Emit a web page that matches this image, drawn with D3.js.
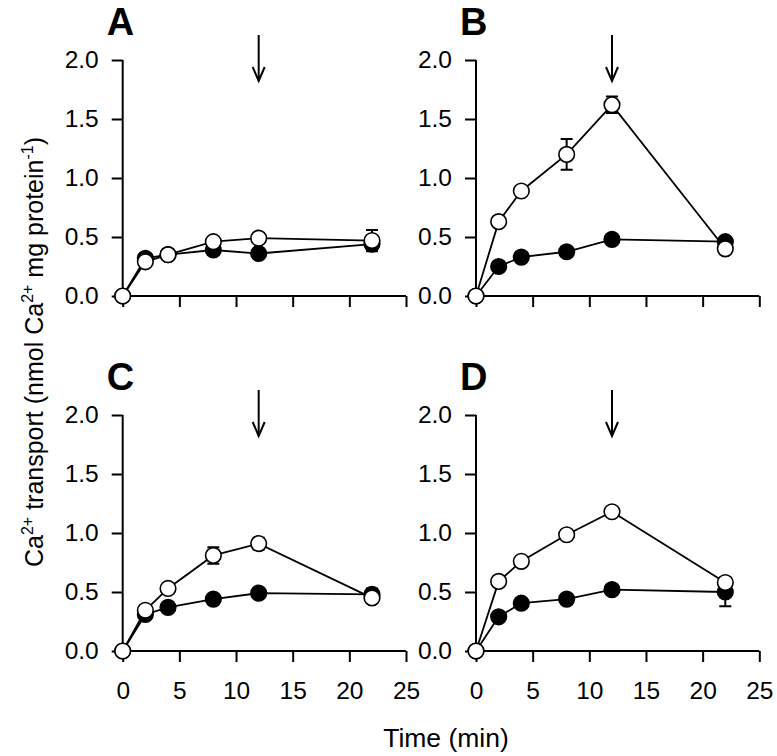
<!DOCTYPE html>
<html><head><meta charset="utf-8">
<script src="https://cdn.jsdelivr.net/npm/d3@7"></script>
<style>body{margin:0;background:#fff}svg{display:block}text{font-family:"Liberation Sans",Arial,sans-serif}</style>
</head><body><svg id="c" width="777" height="756"></svg>
<script>
const times = [0, 2, 4, 8, 12, 22];
const panelLabels = ["A", "B", "C", "D"];
const xTicks = [0, 5, 10, 15, 20, 25];
const yTicks = [0, 0.5, 1.0, 1.5, 2.0];
const arrowTime = 12;
// filled circles
const filledA = [0, 0.32, 0.35, 0.39, 0.36, 0.44];
const filledB = [0, 0.25, 0.33, 0.375, 0.48, 0.46];
const filledC = [0, 0.31, 0.37, 0.44, 0.49, 0.48];
const filledD = [0, 0.29, 0.405, 0.44, 0.52, 0.50];
const filledErrA = [0, 0, 0, 0, 0, 0.04];
const filledErrB = [0, 0, 0, 0, 0, 0];
const filledErrC = [0, 0, 0, 0, 0, 0.05];
const filledErrD = [0, 0, 0, 0, 0, 0.12];
// open circles
const openA = [0, 0.29, 0.35, 0.46, 0.49, 0.47];
const openB = [0, 0.63, 0.89, 1.20, 1.62, 0.40];
const openC = [0, 0.345, 0.53, 0.81, 0.91, 0.45];
const openD = [0, 0.59, 0.76, 0.985, 1.18, 0.58];
const openErrA = [0, 0, 0, 0, 0, 0.09];
const openErrB = [0, 0, 0, 0.13, 0.07, 0];
const openErrC = [0, 0, 0, 0.07, 0.05, 0];
const openErrD = [0, 0, 0, 0, 0, 0];

const panels = [
  {label:panelLabels[0], filled:filledA, fErr:filledErrA, open:openA, oErr:openErrA, x0:122.7, y0:296, xl:false},
  {label:panelLabels[1], filled:filledB, fErr:filledErrB, open:openB, oErr:openErrB, x0:476, y0:296, xl:false},
  {label:panelLabels[2], filled:filledC, fErr:filledErrC, open:openC, oErr:openErrC, x0:122.7, y0:651, xl:true},
  {label:panelLabels[3], filled:filledD, fErr:filledErrD, open:openD, oErr:openErrD, x0:476, y0:651, xl:true}
];
const W = 283.3, H = 236;
const svg = d3.select("#c");
const FONT = '"Liberation Sans",Arial,sans-serif';

panels.forEach(p => {
  const x = d3.scaleLinear().domain([0,25]).range([p.x0, p.x0+W]);
  const y = d3.scaleLinear().domain([0,2]).range([p.y0, p.y0-H]);
  const g = svg.append("g");
  const xa = g.append("g").attr("transform",`translate(0,${p.y0})`)
    .call(d3.axisBottom(x).tickValues(xTicks).tickSize(11).tickPadding(20)
      .tickFormat(p.xl ? d3.format("d") : () => ""));
  const ya = g.append("g").attr("transform",`translate(${p.x0},0)`)
    .call(d3.axisLeft(y).tickValues(yTicks).tickSize(11).tickPadding(13).tickFormat(d3.format(".1f")));
  [xa, ya].forEach(a => {
    a.select(".domain").attr("stroke","#000").attr("stroke-width",2);
    a.selectAll(".tick line").attr("stroke","#000").attr("stroke-width",2);
    a.selectAll("text").attr("font-size",24.5).attr("fill","#000").attr("font-family",FONT);
  });
  xa.select(".domain").attr("d",`M${p.x0},0H${p.x0+W}`);
  ya.select(".domain").attr("d",`M0,${p.y0}V${p.y0-H}`);
  // panel label
  g.append("text").attr("x", p.x0-16).attr("y", p.y0-H-25.5)
    .attr("font-size",38).attr("font-weight","bold").attr("fill","#000").text(p.label);
  // arrow
  const ax = x(arrowTime);
  const aTop = p.y0-H-25, aBot = p.y0-H+21;
  g.append("line").attr("x1",ax).attr("x2",ax).attr("y1",aTop).attr("y2",aBot)
    .attr("stroke","#000").attr("stroke-width",2);
  g.append("path").attr("d",`M${ax-6},${aBot-14}L${ax},${aBot}L${ax+6},${aBot-14}`)
    .attr("fill","none").attr("stroke","#000").attr("stroke-width",2);
  const line = d3.line().x((d,i)=>x(times[i])).y(d=>y(d));
  const series = [
    {v:p.filled, e:p.fErr, fill:"#000"},
    {v:p.open, e:p.oErr, fill:"#fff"}
  ];
  series.forEach(s => {
    s.v.forEach((v,i) => {
      if (!s.e[i]) return;
      const cx = x(times[i]);
      g.append("path").attr("d",
        `M${cx},${y(v-s.e[i])}V${y(v+s.e[i])}M${cx-6},${y(v+s.e[i])}H${cx+6}M${cx-6},${y(v-s.e[i])}H${cx+6}`)
        .attr("stroke","#000").attr("stroke-width",2).attr("fill","none");
    });
  });
  series.forEach(s => {
    g.append("path").datum(s.v).attr("d",line).attr("fill","none")
      .attr("stroke","#000").attr("stroke-width",1.8);
  });
  series.forEach(s => {
    g.selectAll(null).data(s.v).enter().append("circle")
      .attr("cx",(d,i)=>x(times[i])).attr("cy",d=>y(d)).attr("r",7.8)
      .attr("fill",s.fill).attr("stroke","#000").attr("stroke-width",1.6);
  });
});

// y label
const yl = svg.append("text").attr("transform","translate(43,352) rotate(-90)")
  .attr("text-anchor","middle").attr("font-size",25).attr("fill","#000");
yl.append("tspan").text("Ca");
yl.append("tspan").attr("dy",-10).attr("font-size",16).text("2+");
yl.append("tspan").attr("dy",10).text(" transport (nmol Ca");
yl.append("tspan").attr("dy",-10).attr("font-size",16).text("2+");
yl.append("tspan").attr("dy",10).text(" mg protein");
yl.append("tspan").attr("dy",-10).attr("font-size",16).text("-1");
yl.append("tspan").attr("dy",10).text(")");

svg.append("text").attr("x",446).attr("y",746.5).attr("text-anchor","middle")
  .attr("font-size",26.5).attr("fill","#000").text("Time (min)");
</script></body></html>
